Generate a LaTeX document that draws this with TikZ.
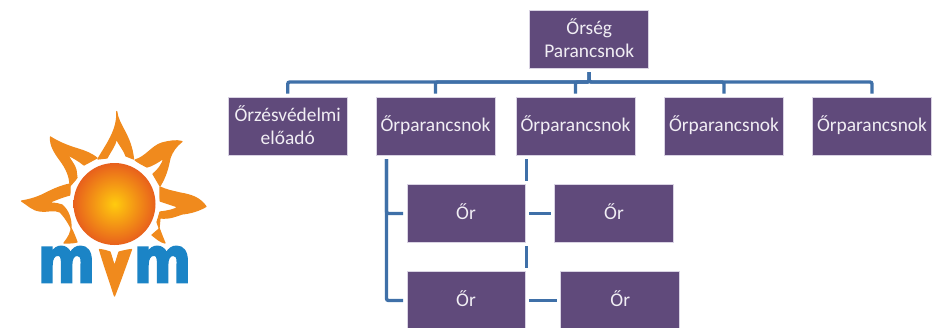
\documentclass[tikz,border=0pt]{standalone}
\usepackage{fontspec}
\usepackage{graphicx}
\setmainfont{Carlito}
\newfontface\logoface{DejaVu Sans Bold}[FakeBold=3]
\usetikzlibrary{calc}
\definecolor{boxfill}{HTML}{604A7B}
\definecolor{boxedge}{HTML}{D9D3E3}
\definecolor{boxtext}{HTML}{F1EEF4}
\definecolor{linkblue}{HTML}{3F70A8}
\definecolor{rayorange}{HTML}{F08A1D}
\definecolor{logoblue}{HTML}{1B84C6}
\definecolor{suncore}{HTML}{FFCB0E}
\definecolor{sunrim}{HTML}{E8601C}
\tikzset{
  orgbox/.style={draw=boxedge,line width=0.7pt,fill=boxfill,inner sep=0pt,outer sep=0pt,
    minimum width=119pt,minimum height=57.5pt},
  orgtext/.style={text=boxtext,inner sep=0pt,outer sep=0pt,yshift=1.5pt,align=center,
    font=\fontsize{19.4pt}{23pt}\selectfont},
  link/.style={draw=linkblue,line width=3.4pt,rounded corners=2pt},
  gap/.style={shorten <=4pt,shorten >=4pt},
  ray/.style={fill=rayorange,draw=rayorange,line width=1.2pt,line join=round},
  logoletter/.style={text=logoblue,inner sep=0pt,outer sep=0pt}
}
\begin{document}
\begin{tikzpicture}[x=1pt,y=-1pt]
\clip (0,0) rectangle (938,327);
\fill[white] (0,0) rectangle (938,327);
% rays
\path[ray] (116.7,111.5) .. controls (118,125) and (131,135) .. (133.5,159) -- (126,156) .. controls (124,150) and (120,146) .. (116.5,139) .. controls (115,146) and (110,152) .. (107,158) -- (98,159) .. controls (106,145) and (118,130) .. cycle;
\path[ray] (182,141.5) .. controls (176,146) and (172,152) .. (170,158) .. controls (168,168) and (166,176) .. (160,186) -- (153,174) .. controls (158,170) and (162,165) .. (164,158) .. controls (158,162) and (152,166) .. (147,167) .. controls (143,165) and (139,163) .. (135,160) .. controls (146,157) and (152,146) .. (162,143) .. controls (170,141) and (176,140) .. cycle;
\path[ray] (206,206.5) .. controls (200,198) and (192,195) .. (180,193) .. controls (172,191) and (166,190) .. (160,187) -- (160,201) .. controls (166,203) and (172,205) .. (178,207) .. controls (174,210) and (168,211) .. (160,212) -- (157,222) .. controls (159,228) and (162,236) .. (165,243) .. controls (160,242) and (156,238) .. (152,235) -- (159,229) -- (160,218) .. controls (170,219) and (176,216) .. (182,214) .. controls (192,213) and (200,210) .. cycle;
\path[ray] (21.5,201) .. controls (28,205) and (32,210) .. (40,211) .. controls (48,212) and (54,209) .. (60,212) .. controls (66,218) and (72,228) .. (77,242) .. controls (73,243) and (69,243) .. (64,243) .. controls (68,238) and (72,232) .. (71,226) .. controls (71,218) and (68,210) .. (62,205) .. controls (56,203) and (52,203) .. (48,203) .. controls (55,200) and (62,197) .. (70,195) -- (70,184) .. controls (60,186) and (52,190) .. (44,194) .. controls (36,198) and (28,200) .. cycle;
\path[ray] (50.5,137) .. controls (58,142) and (68,146) .. (78,149) .. controls (85,151) and (92,154) .. (97,158) -- (84,165) .. controls (79,161) and (74,158) .. (68,155) .. controls (70,160) and (75,165) .. (76,170) -- (77,178) -- (70,186) .. controls (70,176) and (66,168) .. (60,160) .. controls (55,153) and (50,146) .. cycle;
\path[ray] (99.5,249.5) .. controls (104,250) and (107,251) .. (110,252) .. controls (112,258) and (113,262) .. (114.5,266) .. controls (116,262) and (117,258) .. (119,252) .. controls (123,251) and (127,250) .. (131.5,249.5) .. controls (126,265) and (120,282) .. (114.5,296) .. controls (110,282) and (104,265) .. cycle;
% sun
\fill[white] (114.5,204) circle[radius=45];
\shade[inner color=suncore,outer color=sunrim] (114.5,204) circle[radius=41];
% letters
\node[logoletter] (mleft) at (66.5,264.5) {\resizebox{58pt}{36pt}{\logoface m}};
\node[logoletter] (mright) at (162.5,264.5) {\resizebox{58pt}{36pt}{\logoface m}};
% boxes
\node[orgbox] (root) at (589.25,39.25) {};
\node[orgbox] (adv) at (287.75,126.25) {};
\node[orgbox] (c1) at (435.5,126.25) {};
\node[orgbox] (c2) at (575.5,126.25) {};
\node[orgbox] (c3) at (724,126.25) {};
\node[orgbox] (c4) at (872,126.25) {};
\node[orgbox,minimum width=118pt] (g1) at (466,213.5) {};
\node[orgbox] (g2) at (614,213.5) {};
\node[orgbox,minimum width=118pt] (g3) at (466,300.5) {};
\node[orgbox] (g4) at (620.25,300.5) {};
% box texts
\node[orgtext] (troot) at (root) {Őrség\\Parancsnok};
\node[orgtext] (tadv) at (adv) {Őrzésvédelmi\\előadó};
\node[orgtext] (tc1) at (c1) {Őrparancsnok};
\node[orgtext] (tc2) at (c2) {Őrparancsnok};
\node[orgtext] (tc3) at (c3) {Őrparancsnok};
\node[orgtext] (tc4) at (c4) {Őrparancsnok};
\node[orgtext] (tg1) at (g1) {Őr};
\node[orgtext] (tg2) at (g2) {Őr};
\node[orgtext] (tg3) at (g3) {Őr};
\node[orgtext] (tg4) at (g4) {Őr};
% connectors
\draw[link,gap] (root.south) -- ++(0,14) -| (adv.north);
\draw[link,gap] (root.south) -- ++(0,14) -| (c1.north);
\draw[link,gap] (root.south) -- ++(0,14) -| (c2.north);
\draw[link,gap] (root.south) -- ++(0,14) -| (c3.north);
\draw[link,gap] (root.south) -- ++(0,14) -| (c4.north);
\coordinate (c1tap) at ($(c1.south west)+(10.5,0)$);
\coordinate (c2tap) at ($(c2.south west)+(10.5,0)$);
\coordinate (g1tap) at ($(g1.south east)+(1.5,0)$);
\draw[link,gap] (c1tap) |- (g1.west);
\draw[link,gap] (c1tap) |- (g3.west);
\draw[link,gap] (c2tap) -- (c2tap |- g1.north);
\draw[link,gap] (g1tap) -- (g1tap |- g3.north);
\draw[link,gap] (g1.east) -- (g2.west);
\draw[link,gap] (g3.east) -- (g4.west);
\end{tikzpicture}
\end{document}
